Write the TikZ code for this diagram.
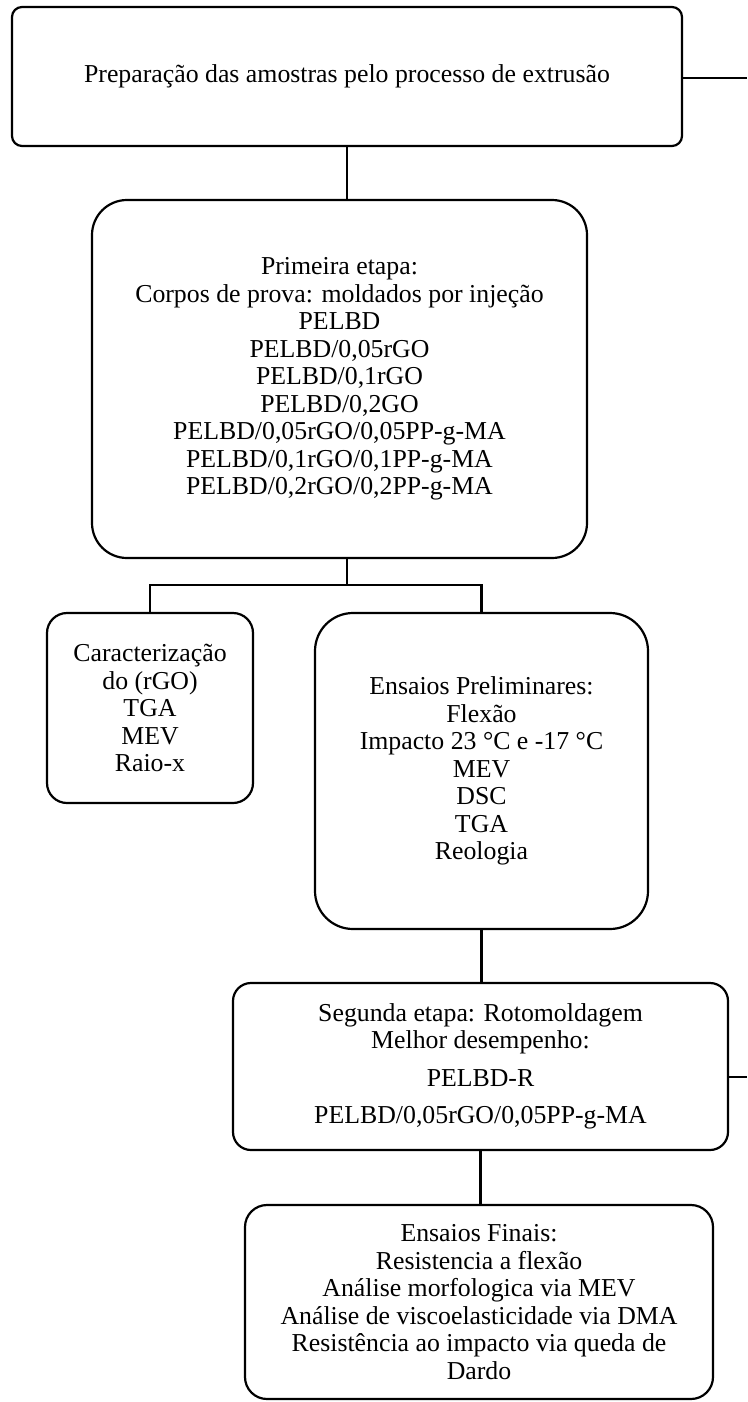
\documentclass[tikz,border=0pt]{standalone}
\usepackage{fontspec}
\setmainfont{Liberation Serif}
\usetikzlibrary{positioning}

\tikzset{
  caixa/.style={draw, line width=2.2pt, align=center, inner sep=0pt,
    font=\fontsize{25.8}{27.5}\selectfont},
  liga/.style={line width=2.2pt}
}

\begin{document}
\begin{tikzpicture}[x=1pt, y=-1pt]
\useasboundingbox (0,0) rectangle (747,1402);
% caixas
\node[caixa, rounded corners=10pt, minimum width=670pt, minimum height=139pt] (prep) at (347,76.5)
  {Preparação das amostras pelo processo de extrusão};
\node[caixa, rounded corners=35pt, minimum width=495pt, minimum height=358pt] (etapa1) at (339.5,379)
  {Primeira etapa:\\Corpos de prova: moldados por injeção\\PELBD\\PELBD/0,05rGO\\PELBD/0,1rGO\\PELBD/0,2GO\\PELBD/0,05rGO/0,05PP-g-MA\\PELBD/0,1rGO/0,1PP-g-MA\\PELBD/0,2rGO/0,2PP-g-MA};
\node[caixa, rounded corners=20pt, minimum width=206pt, minimum height=190pt] (caract) at (150,708)
  {Caracterização\\do (rGO)\\TGA\\MEV\\Raio-x};
\node[caixa, rounded corners=38pt, minimum width=333pt, minimum height=316pt] (prelim) at (481.5,771)
  {Ensaios Preliminares:\\Flexão\\Impacto 23 °C e -17 °C\\MEV\\DSC\\TGA\\Reologia};
\node[caixa, rounded corners=18pt, minimum width=495pt, minimum height=167pt] (etapa2) at (480.5,1066.5)
  {Segunda etapa: Rotomoldagem\\Melhor desempenho:\\[10pt]PELBD-R\\[10pt]PELBD/0,05rGO/0,05PP-g-MA};
\node[caixa, rounded corners=22pt, minimum width=468pt, minimum height=194pt] (finais) at (479,1302)
  {Ensaios Finais:\\Resistencia a flexão\\Análise morfologica via MEV\\Análise de viscoelasticidade via DMA\\Resistência ao impacto via queda de\\Dardo};
% ligacoes
\coordinate (ramo) at (347,585);
\coordinate (fim1) at (747,78);
\coordinate (fim2) at (747,1077);
\draw[liga] (prep.south) -- (prep.south |- etapa1.north);
\draw[liga] (ramo |- etapa1.south) -- (ramo);
\draw[liga] (caract.north) |- (ramo) -| (prelim.north);
\draw[liga] (prelim.south) -- (prelim.south |- etapa2.north);
\draw[liga] (etapa2.south) -- (etapa2.south |- finais.north);
\draw[liga] (fim1 -| prep.east) -- (fim1);
\draw[liga] (fim2 -| etapa2.east) -- (fim2);
\end{tikzpicture}
\end{document}
